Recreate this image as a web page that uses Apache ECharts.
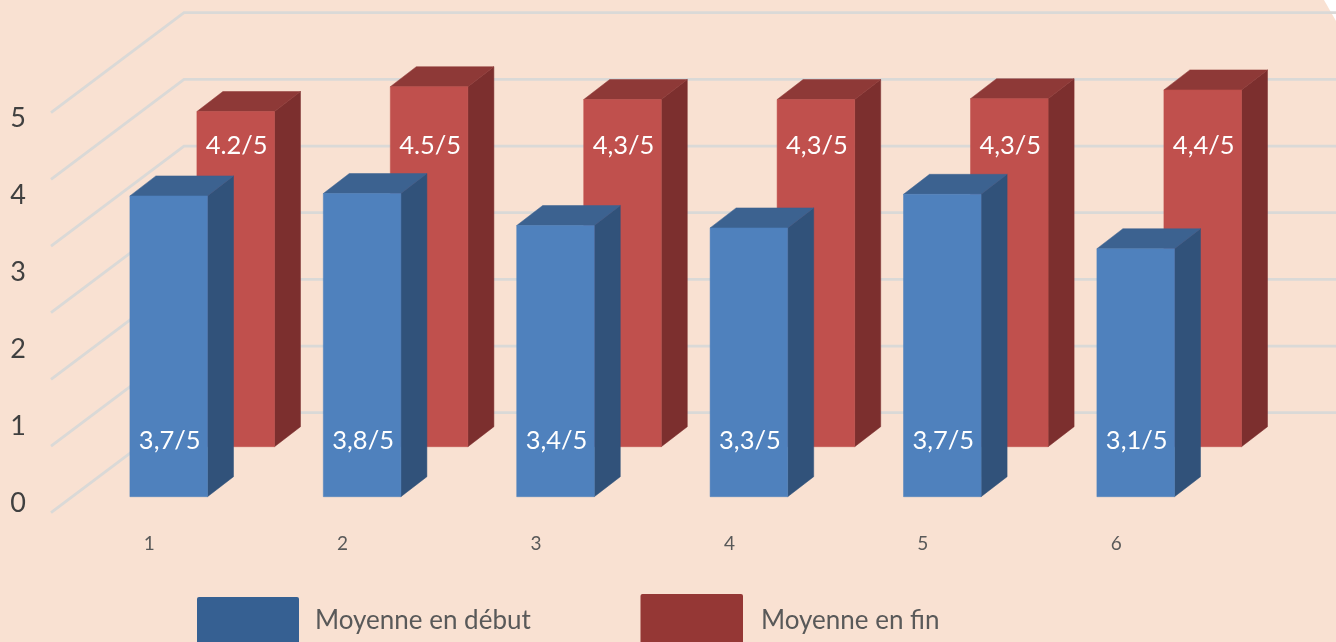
<!DOCTYPE html>
<html><head><meta charset="utf-8">
<style>html,body{margin:0;padding:0;background:#F9E1D2;overflow:hidden}#c{width:1336px;height:642px}</style>
<script src="https://cdn.jsdelivr.net/npm/echarts@6/dist/echarts.min.js"></script>
</head><body><div id="c"></div>
<script>
const categories = ['1','2','3','4','5','6'];
const debutValues = [3.76,3.79,3.39,3.36,3.78,3.10];
const finValues = [4.19,4.50,4.34,4.34,4.35,4.46];
const debutLabels = ['3,7/5','3,8/5','3,4/5','3,3/5','3,7/5','3,1/5'];
const finLabels = ['4.2/5','4.5/5','4,3/5','4,3/5','4,3/5','4,4/5'];
const yTickLabels = [0,1,2,3,4,5];
const wallLevels = [0,1,2,3,4,5,6];
const seriesNames = ['Moyenne en début','Moyenne en fin'];

const FONT = 'Lato';
const W = 77.6, DX = 26, DY = 20;
const blueStyle = {front:'#4F81BD', side:'#31527A', top:'#3C6290'};
const redStyle = {front:'#C0504D', side:'#7C2F2E', top:'#8E3937'};

function box(api, left, up, st, labelText, labelY){
  const base = api.coord([api.value(0), 0]);
  const top = api.coord([api.value(0), api.value(1)]);
  const x0 = base[0] + left, x1 = x0 + W;
  const yb = base[1] - up, yt = top[1] - up;
  const poly = (points, fill) => ({type:'polygon', shape:{points}, style:{fill, stroke:fill, lineWidth:0.5}});
  return {type:'group', children:[
    poly([[x1,yb],[x1+DX,yb-DY],[x1+DX,yt-DY],[x1,yt]], st.side),
    poly([[x0,yt],[x0+DX,yt-DY],[x1+DX,yt-DY],[x1,yt]], st.top),
    poly([[x0,yb],[x1,yb],[x1,yt],[x0,yt]], st.front),
    {type:'text', x:(x0+x1)/2+1, y:labelY, z2:5, style:{text:labelText, fill:'#fff', font:'25.5px '+FONT, align:'center', verticalAlign:'middle'}}
  ]};
}

const option = {
  animation:false,
  backgroundColor:'#F9E1D2',
  graphic:[{type:'polygon', z:0, shape:{points:[[1324,0],[1336,0],[1336,21]]}, style:{fill:'#fff'}}],
  grid:[
    {left:52.5, width:1160.4, top:96.7, height:400},
    {left:36, width:100, top:118, height:385},
    {left:51, width:1285, top:112.7, height:400}
  ],
  xAxis:[
    {gridIndex:0, type:'category', data:categories, axisLine:{show:false}, axisTick:{show:false},
      axisLabel:{color:'#595959', fontSize:19, fontFamily:FONT, margin:38}},
    {gridIndex:1, type:'value', show:false},
    {gridIndex:2, type:'value', min:0, max:1, show:false}
  ],
  yAxis:[
    {gridIndex:0, type:'value', min:0, max:5, show:false},
    {gridIndex:1, type:'value', min:0, max:5, interval:1, axisLine:{show:false}, axisTick:{show:false}, splitLine:{show:false},
      axisLabel:{color:'#404040', fontSize:27, fontFamily:FONT, align:'center', margin:18,
        formatter:v=>yTickLabels.includes(v)?String(v):''}},
    {gridIndex:2, type:'value', min:0, max:6, show:false}
  ],
  legend:[
    {left:192, top:592, itemWidth:102, itemHeight:48,
      data:[{name:seriesNames[0], icon:'path://M2,0 L100,0 Q102,0 102,2 L102,48 L0,48 L0,2 Q0,0 2,0 Z', itemStyle:{color:'#366092'}}],
      textStyle:{color:'#595959', fontSize:26, fontFamily:FONT, padding:[2,0,0,11]}},
    {left:635.5, top:589, itemWidth:102.5, itemHeight:54,
      data:[{name:seriesNames[1], icon:'path://M2,0 L100.5,0 Q102.5,0 102.5,2 L102.5,54 L0,54 L0,2 Q0,0 2,0 Z', itemStyle:{color:'#953735'}}],
      textStyle:{color:'#595959', fontSize:26, fontFamily:FONT, padding:[2,0,0,13]}}
  ],
  series:[
    {type:'custom', name:'walls', xAxisIndex:2, yAxisIndex:2, silent:true, clip:false, z:1,
      data:wallLevels.map(v=>[0,v]),
      renderItem(p, api){
        const a = api.coord([0, api.value(1)]);
        const e = api.coord([1, api.value(1)]);
        return {type:'polyline', shape:{points:[[a[0],a[1]],[a[0]+133,a[1]-100],[e[0],a[1]-100]]},
          style:{stroke:'#DAD9D7', lineWidth:2.8, fill:null}};
      }},
    {type:'custom', name:seriesNames[1], xAxisIndex:0, yAxisIndex:0, clip:false, z:2,
      itemStyle:{color:'#953735'},
      data:finValues.map((v,i)=>[i,v]),
      renderItem(p, api){ return box(api, 47.7, 50, redStyle, finLabels[p.dataIndex], 146); }},
    {type:'custom', name:seriesNames[0], xAxisIndex:0, yAxisIndex:0, clip:false, z:3,
      itemStyle:{color:'#366092'},
      data:debutValues.map((v,i)=>[i,v]),
      renderItem(p, api){ return box(api, -19.3, 0, blueStyle, debutLabels[p.dataIndex], 441); }}
  ]
};
echarts.init(document.getElementById('c'), null, {renderer:'canvas'}).setOption(option);
</script></body></html>
